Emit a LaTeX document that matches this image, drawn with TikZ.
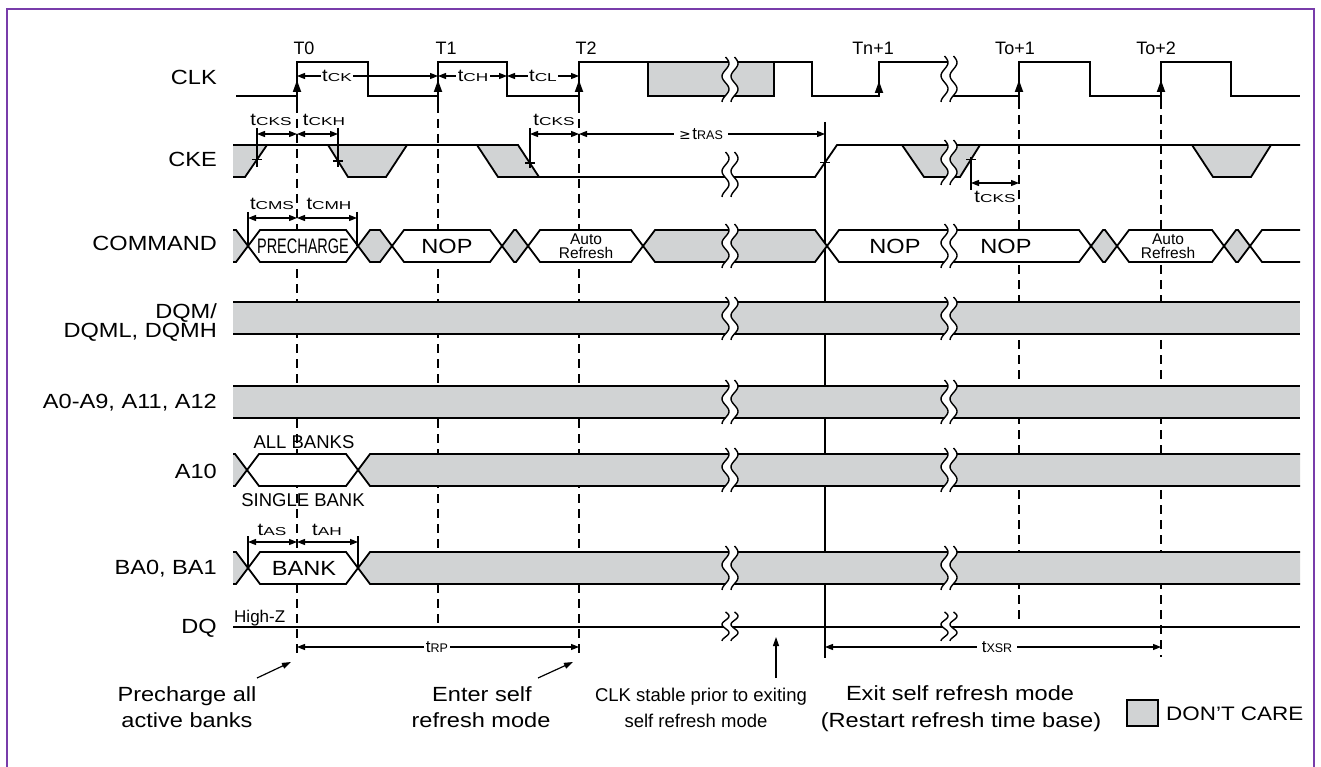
\documentclass[tikz,border=0pt]{standalone}
\usepackage{fontspec}
\setmainfont{Liberation Sans}[FakeStretch=1.15]
\newfontfamily\cfont{Liberation Sans}
\newfontfamily\pfont{Liberation Sans}[FakeStretch=0.69]
\newfontfamily\wfont{Liberation Sans}[FakeStretch=1.5]
\newfontfamily\dvfont{DejaVu Sans}
\usetikzlibrary{arrows.meta}
\definecolor{dcgray}{RGB}{209,211,212}
\definecolor{framec}{RGB}{120,60,170}
\newcommand{\tpw}[1]{{\fontsize{17.5}{17}\selectfont t{\wfont\fontsize{11.5}{11}\selectfont #1}}}
\newcommand{\tpn}[1]{{\cfont\fontsize{17}{15}\selectfont t{\fontsize{12.5}{10}\selectfont #1}}}
\newcommand{\mybrk}[3]{%
 \fill[white] plot[domain=0:1,samples=31,smooth] ({#1-4.5+3.5*sin(630*\x)},{#2+\x*(#3-#2)}) -- plot[domain=0:1,samples=31,smooth] ({#1+4.5+3.5*sin(630*(1-\x))},{#3-\x*(#3-#2)}) -- cycle;
 \draw[brkl] plot[domain=0:1,samples=31,smooth] ({#1-4.5+3.5*sin(630*\x)},{#2+\x*(#3-#2)});
 \draw[brkl] plot[domain=0:1,samples=31,smooth] ({#1+4.5+3.5*sin(630*\x)},{#2+\x*(#3-#2)});
}
\begin{document}
\begin{tikzpicture}[x=1pt,y=-1pt,
  sig/.style={line width=1.8pt, line join=miter, line cap=butt},
  brkl/.style={line width=1.4pt},
  vdash/.style={line width=1.6pt, dash pattern=on 9pt off 6pt},
  vsolid/.style={line width=1.4pt},
  refl/.style={line width=1.3pt},
  dim/.style={{Triangle[length=8pt,width=6pt]}-{Triangle[length=8pt,width=6pt]}, line width=1.2pt},
  ptr/.style={-{Triangle[length=9pt,width=6pt]}, line width=1.2pt},
  uparr/.style={-{Triangle[length=12pt,width=8pt]}, line width=1.8pt},
  lab/.style={font=\fontsize{20.5}{22}\selectfont, inner sep=0pt},
  clab/.style={font=\cfont\fontsize{18.5}{20}\selectfont, inner sep=0pt},
  tlab/.style={font=\cfont\fontsize{18}{20}\selectfont, inner sep=0pt, anchor=base},
  wlab/.style={fill=white, inner sep=1.5pt},
]
\useasboundingbox (0,0) rectangle (1321,767);
\fill[white] (0,0) rectangle (1321,767);
\draw[framec, line width=2pt] (7,790) -- (7,9) -- (1314,9) -- (1314,790);

% ---------- vertical reference lines ----------
\coordinate (v0a) at (297,104); \coordinate (v0b) at (297,658);
\coordinate (v1a) at (438,104); \coordinate (v1b) at (438,623);
\coordinate (v2a) at (579,104); \coordinate (v2b) at (579,658);
\coordinate (v3a) at (1019,100); \coordinate (v3b) at (1019,623);
\coordinate (v4a) at (1161,100); \coordinate (v4b) at (1161,657);
\coordinate (vsa) at (825,122); \coordinate (vsb) at (825,658);
\draw[vdash] (v0a) -- (v0b);
\draw[vdash] (v1a) -- (v1b);
\draw[vdash] (v2a) -- (v2b);
\draw[vdash] (v3a) -- (v3b);
\draw[vdash] (v4a) -- (v4b);
\draw[vsolid] (vsa) -- (vsb);

% ---------- CLK ----------
\filldraw[fill=dcgray, sig] (648,62) rectangle (774,96);
\draw[sig] (236,96) -- (297,96) -- (297,62) -- (368,62) -- (368,96) -- (438,96) -- (438,62) -- (507,62) -- (507,96) -- (579,96) -- (579,62) -- (812,62) -- (812,96) -- (879,96) -- (879,62) -- (949,62);
\draw[sig] (949,96) -- (1019,96) -- (1019,62) -- (1090,62) -- (1090,96) -- (1161,96) -- (1161,62) -- (1231,62) -- (1231,96) -- (1300,96);
\coordinate (e0) at (297,80); \coordinate (e1) at (438,80); \coordinate (e2) at (579,80);
\coordinate (e3) at (879,81); \coordinate (e4) at (1019,80); \coordinate (e5) at (1161,80);
\draw[uparr] (v0a) -- (e0);
\draw[uparr] (v1a) -- (e1);
\draw[uparr] (v2a) -- (e2);
\draw[uparr] (879,96) -- (e3);
\draw[uparr] (v3a) -- (e4);
\draw[uparr] (v4a) -- (e5);
\mybrk{730}{57}{102}
\mybrk{949}{56}{102}

% ---------- CKE ----------
\fill[dcgray] (233,145) -- (267,145) -- (245,177) -- (233,177) -- cycle;
\fill[dcgray] (328,145) -- (407,145) -- (386,177) -- (348,177) -- cycle;
\fill[dcgray] (477,145) -- (518,145) -- (539,177) -- (498,177) -- cycle;
\fill[dcgray] (902,145) -- (980,145) -- (960,177) -- (924,177) -- cycle;
\fill[dcgray] (1192,145) -- (1271,145) -- (1251,177) -- (1213,177) -- cycle;
\draw[sig] (233,177) -- (245,177) -- (267,145);
\draw[sig] (233,145) -- (518,145) -- (539,177);
\draw[sig] (328,145) -- (348,177) -- (386,177) -- (407,145);
\draw[sig] (477,145) -- (498,177) -- (815,177) -- (837,145) -- (1300,145);
\draw[sig] (902,145) -- (924,177) -- (960,177) -- (980,145);
\draw[sig] (1192,145) -- (1213,177) -- (1251,177) -- (1271,145);
\mybrk{730}{152}{197}
\mybrk{949}{140}{185}
% ticks
\draw[refl] (252,159.5) -- (262,159.5);
\draw[refl] (333,161) -- (343,161);
\draw[refl] (525,163) -- (535,163);
\draw[refl] (820,162.5) -- (830,162.5);
\draw[refl] (966,159.5) -- (976,159.5);

% ---------- COMMAND ----------
\filldraw[fill=dcgray, sig] (233,230) -- (236,230) -- (248,246) -- (236,262) -- (233,262);
\filldraw[fill=white, sig] (248,246) -- (260,230) -- (346,230) -- (358,246) -- (346,262) -- (260,262) -- cycle;
\filldraw[fill=dcgray, sig] (358,246) -- (370,230) -- (380,230) -- (392,246) -- (380,262) -- (370,262) -- cycle;
\filldraw[fill=white, sig] (392,246) -- (404,230) -- (490,230) -- (502,246) -- (490,262) -- (404,262) -- cycle;
\filldraw[fill=dcgray, sig] (502,246) -- (514,230) -- (516,230) -- (528,246) -- (516,262) -- (514,262) -- cycle;
\filldraw[fill=white, sig] (528,246) -- (540,230) -- (631,230) -- (643,246) -- (631,262) -- (540,262) -- cycle;
\filldraw[fill=dcgray, sig] (643,246) -- (655,230) -- (815,230) -- (827,246) -- (815,262) -- (655,262) -- cycle;
\filldraw[fill=white, sig] (827,246) -- (839,230) -- (1079,230) -- (1091,246) -- (1079,262) -- (839,262) -- cycle;
\filldraw[fill=dcgray, sig] (1091,246) -- (1103,230) -- (1105,230) -- (1117,246) -- (1105,262) -- (1103,262) -- cycle;
\filldraw[fill=white, sig] (1117,246) -- (1129,230) -- (1212,230) -- (1224,246) -- (1212,262) -- (1129,262) -- cycle;
\filldraw[fill=dcgray, sig] (1224,246) -- (1236,230) -- (1238,230) -- (1250,246) -- (1238,262) -- (1236,262) -- cycle;
\draw[sig] (1300,230) -- (1262,230) -- (1250,246) -- (1262,262) -- (1300,262);
\mybrk{730}{224}{268}
\mybrk{949}{224}{268}
\node[font=\pfont\fontsize{21}{21}\selectfont, inner sep=0pt] (cpre) at (303,246) {PRECHARGE};
\node[lab] (cnop1) at (447,246) {NOP};
\node[font=\cfont\fontsize{15.5}{14}\selectfont, inner sep=0pt, align=center] (car1) at (586,246) {Auto\\Refresh};
\node[lab] (cnop2) at (895,246) {NOP};
\node[lab] (cnop3) at (1006,246) {NOP};
\node[font=\cfont\fontsize{15.5}{14}\selectfont, inner sep=0pt, align=center] (car2) at (1168,246) {Auto\\Refresh};

% ---------- DQM, A0 ----------
\fill[dcgray] (233,302) rectangle (1300,334);
\draw[sig] (233,302) -- (1300,302) (233,334) -- (1300,334);
\fill[dcgray] (233,386) rectangle (1300,418);
\draw[sig] (233,386) -- (1300,386) (233,418) -- (1300,418);
\mybrk{730}{297}{340}
\mybrk{949}{297}{340}
\mybrk{730}{380}{424}
\mybrk{949}{380}{424}

% ---------- A10 ----------
\filldraw[fill=dcgray, sig] (233,454) -- (235,454) -- (247,470) -- (235,486) -- (233,486);
\filldraw[fill=white, sig] (247,470) -- (259,454) -- (346,454) -- (358,470) -- (346,486) -- (259,486) -- cycle;
\fill[dcgray] (358,470) -- (370,454) -- (1300,454) -- (1300,486) -- (370,486) -- cycle;
\draw[sig] (1300,454) -- (370,454) -- (358,470) -- (370,486) -- (1300,486);
\mybrk{730}{448}{492}
\mybrk{949}{448}{492}
\node[clab] (allb) at (304,442) {ALL BANKS};
\node[clab] (singb) at (303,500) {SINGLE BANK};

% ---------- BA0, BA1 ----------
\filldraw[fill=dcgray, sig] (233,552) -- (236,552) -- (248,568) -- (236,584) -- (233,584);
\filldraw[fill=white, sig] (248,568) -- (260,552) -- (346,552) -- (358,568) -- (346,584) -- (260,584) -- cycle;
\fill[dcgray] (358,568) -- (370,552) -- (1300,552) -- (1300,584) -- (370,584) -- cycle;
\draw[sig] (1300,552) -- (370,552) -- (358,568) -- (370,584) -- (1300,584);
\mybrk{730}{546}{590}
\mybrk{949}{546}{590}
\node[lab] (bank) at (304,568) {BANK};

% ---------- DQ ----------
\draw[sig] (233,627) -- (1300,627);
\mybrk{730}{612}{641}
\mybrk{949}{612}{641}
\node[font=\cfont\fontsize{17}{17}\selectfont, inner sep=0pt, anchor=base west] (hiz) at (234,622) {High-Z};

% ---------- row labels ----------
\node[lab, anchor=base east] (lclk) at (217,85) {CLK};
\node[lab, anchor=base east] (lcke) at (217,167) {CKE};
\node[lab, anchor=base east] (lcmd) at (217,251) {COMMAND};
\node[lab, anchor=base east] (ldqm1) at (217,318) {DQM/};
\node[lab, anchor=base east] (ldqm2) at (217,337) {DQML, DQMH};
\node[lab, anchor=base east] (la0) at (217,408) {A0-A9, A11, A12};
\node[lab, anchor=base east] (la10) at (217,478) {A10};
\node[lab, anchor=base east] (lba) at (217,574) {BA0, BA1};
\node[lab, anchor=base east] (ldq) at (217,633) {DQ};

% ---------- clock labels ----------
\node[tlab] (lt0) at (304,55) {T0};
\node[tlab] (lt1) at (446,55) {T1};
\node[tlab] (lt2) at (586,55) {T2};
\node[tlab] (ltn) at (873,55) {Tn+1};
\node[tlab] (lto1) at (1015,55) {To+1};
\node[tlab] (lto2) at (1156,55) {To+2};

% ---------- CLK timing ----------
\coordinate (ck0) at (297,76); \coordinate (ck1) at (438,76);
\coordinate (ck2) at (507,76); \coordinate (ck3) at (579,76);
\draw[dim] (ck0) -- (ck1);
\draw[dim] (ck1) -- (ck2);
\draw[dim] (ck2) -- (ck3);
\node[wlab] (ttck) at (337,76) {\tpw{CK}};
\node[wlab] (ttch) at (473,76) {\tpw{CH}};
\node[wlab] (ttcl) at (543,76) {\tpw{CL}};

% ---------- CKE timing ----------
\coordinate (r1a) at (257,128); \coordinate (r1b) at (257,167);
\coordinate (r2a) at (338,128); \coordinate (r2b) at (338,167);
\coordinate (r3a) at (530,128); \coordinate (r3b) at (530,168);
\coordinate (r4a) at (971,157); \coordinate (r4b) at (971,190);
\draw[refl] (r1a) -- (r1b);
\draw[refl] (r2a) -- (r2b);
\draw[refl] (r3a) -- (r3b);
\draw[refl] (r4a) -- (r4b);
\coordinate (k1) at (257,134); \coordinate (k2) at (297,134); \coordinate (k3) at (338,134);
\coordinate (k4) at (530,134); \coordinate (k5) at (579,134); \coordinate (k6) at (825,134);
\coordinate (k7) at (971,183); \coordinate (k8) at (1019,183);
\draw[dim] (k1) -- (k2);
\draw[dim] (k2) -- (k3);
\draw[dim] (k4) -- (k5);
\draw[dim] (k5) -- (k6);
\draw[dim] (k7) -- (k8);
\node[inner sep=0pt, anchor=base] (tcks1) at (271,126) {\tpw{CKS}};
\node[inner sep=0pt, anchor=base] (tckh) at (324,126) {\tpw{CKH}};
\node[inner sep=0pt, anchor=base] (tcks2) at (554,126) {\tpw{CKS}};
\node[fill=white, inner xsep=5pt, inner ysep=1.5pt] (tras) at (701,134) {{\dvfont\fontsize{14}{12}\selectfont ≥}\,\tpn{RAS}};
\node[inner sep=0pt, anchor=base] (tcks3) at (995,203) {\tpw{CKS}};

% ---------- COMMAND timing ----------
\coordinate (m1a) at (248,212); \coordinate (m1b) at (248,246);
\coordinate (m2a) at (357,212); \coordinate (m2b) at (357,246);
\draw[refl] (m1a) -- (m1b);
\draw[refl] (m2a) -- (m2b);
\coordinate (m1) at (248,218); \coordinate (m2) at (297,218); \coordinate (m3) at (357,218);
\draw[dim] (m1) -- (m2);
\draw[dim] (m2) -- (m3);
\node[inner sep=0pt, anchor=base] (tcms) at (272,210) {\tpw{CMS}};
\node[inner sep=0pt, anchor=base] (tcmh) at (329,210) {\tpw{CMH}};

% ---------- BA timing ----------
\coordinate (a1a) at (248,536); \coordinate (a1b) at (248,568);
\coordinate (a2a) at (358,536); \coordinate (a2b) at (358,568);
\draw[refl] (a1a) -- (a1b);
\draw[refl] (a2a) -- (a2b);
\coordinate (a1) at (248,542); \coordinate (a2) at (297,542); \coordinate (a3) at (358,542);
\draw[dim] (a1) -- (a2);
\draw[dim] (a2) -- (a3);
\node[inner sep=0pt, anchor=base] (tas) at (272,535) {\tpw{AS}};
\node[inner sep=0pt, anchor=base] (tah) at (327,535) {\tpw{AH}};

% ---------- tRP, tXSR ----------
\coordinate (p1) at (297,647); \coordinate (p2) at (579,647);
\coordinate (p3) at (825,647); \coordinate (p4) at (1161,647);
\draw[dim] (p1) -- (p2);
\draw[dim] (p3) -- (p4);
\node[wlab] (trp) at (437,647) {\tpn{RP}};
\node[fill=white, inner xsep=5pt, inner ysep=1.5pt] (txsr) at (997,647) {\tpn{XSR}};

% ---------- bottom notes ----------
\node[lab, anchor=base] (n1a) at (187,701) {Precharge all};
\node[lab, anchor=base] (n1b) at (187,727) {active banks};
\node[lab, anchor=base] (n2a) at (482,701) {Enter self};
\node[lab, anchor=base] (n2b) at (481,727) {refresh mode};
\node[clab, anchor=base] (n3a) at (701,701) {CLK stable prior to exiting};
\node[clab, anchor=base] (n3b) at (696,727) {self refresh mode};
\node[lab, anchor=base] (n4a) at (960,700) {Exit self refresh mode};
\node[lab, anchor=base] (n4b) at (961,727) {(Restart refresh time base)};
\coordinate (q1a) at (257,678); \coordinate (q1b) at (291,662);
\coordinate (q2a) at (538,678); \coordinate (q2b) at (573,662);
\coordinate (q3a) at (776,678); \coordinate (q3b) at (776,637);
\draw[ptr] (q1a) -- (q1b);
\draw[ptr] (q2a) -- (q2b);
\draw[ptr] (q3a) -- (q3b);
\node[draw, line width=1.8pt, fill=dcgray, minimum width=31pt, minimum height=26pt, inner sep=0pt] (dcbox) at (1142.5,713) {};
\node[font=\fontsize{19.5}{21}\selectfont, inner sep=0pt, anchor=base west] (dctext) at (1166,720) {DON'T CARE};
\end{tikzpicture}
\end{document}
